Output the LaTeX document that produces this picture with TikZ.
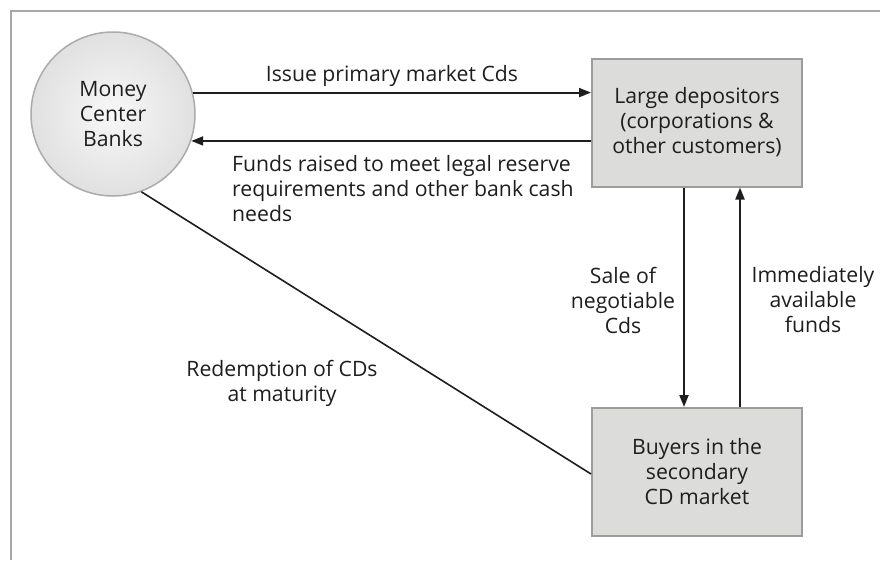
\documentclass[tikz,border=0pt]{standalone}
\usepackage{fontspec}
\setmainfont{Open Sans}
\usetikzlibrary{arrows.meta}

\definecolor{framegray}{HTML}{A8A8A8}
\definecolor{boxfill}{HTML}{DCDCDA}
\definecolor{boxline}{HTML}{9C9C9C}
\definecolor{inkdark}{HTML}{1E1E1E}

\newcommand{\diagfont}{\fontsize{21.2}{25}\selectfont}

\tikzset{
  lbl/.style={font=\diagfont, text=inkdark, align=center, inner sep=0pt},
  entity/.style={draw=boxline, line width=2pt, fill=boxfill, minimum width=210pt,
                 minimum height=128pt, align=center, text=inkdark, font=\diagfont},
  bank/.style={circle, draw=boxline!85, line width=1.5pt, minimum size=164pt,
               inner color=white!97!black, outer color=black!12, align=center,
               text=inkdark, font=\diagfont},
  flow/.style={draw=inkdark, line width=2pt, -{Triangle[length=12pt,width=9pt]}},
  plain/.style={draw=inkdark, line width=1.6pt}
}

\begin{document}
\begin{tikzpicture}[x=1pt,y=-1pt]
  \useasboundingbox (0,0) rectangle (880,560);
  \fill[white] (0,0) rectangle (880,560);
  % frame edges
  \draw[framegray, line width=2.5pt] (11,560) -- (11,11) -- (880,11);

  % participants
  \node[bank] (mcb) at (113,114) {Money\\Center\\Banks};
  \node[entity] (dep) at (697,122.5) {Large depositors\\(corporations \&\\other customers)};
  \node[entity] (buy) at (697,472) {Buyers in the\\secondary\\CD market};

  % primary market flows
  \draw[flow] (mcb.15.6) -- (mcb.15.6 -| dep.west);
  \draw[flow] (dep.west |- mcb.-19.2) -- (mcb.-19.2);

  % secondary market flows
  \draw[flow] ([xshift=-13pt]dep.south) -- ([xshift=-13pt]buy.north);
  \draw[flow] ([xshift=43pt]buy.north) -- ([xshift=43pt]dep.south);

  % redemption
  \draw[plain] (mcb.-70) -- ([yshift=-2pt]buy.west);

  % labels
  \node[lbl] (l1) at (392,76) {Issue primary market Cds};
  \node[lbl, align=left, anchor=west] (l2) at (232,189) {Funds raised to meet legal reserve\\requirements and other bank cash\\needs};
  \node[lbl] (l3) at (623,300) {Sale of\\negotiable\\Cds};
  \node[lbl] (l4) at (813,300) {Immediately\\available\\funds};
  \node[lbl] (l5) at (282,383) {Redemption of CDs\\at maturity};
\end{tikzpicture}
\end{document}
